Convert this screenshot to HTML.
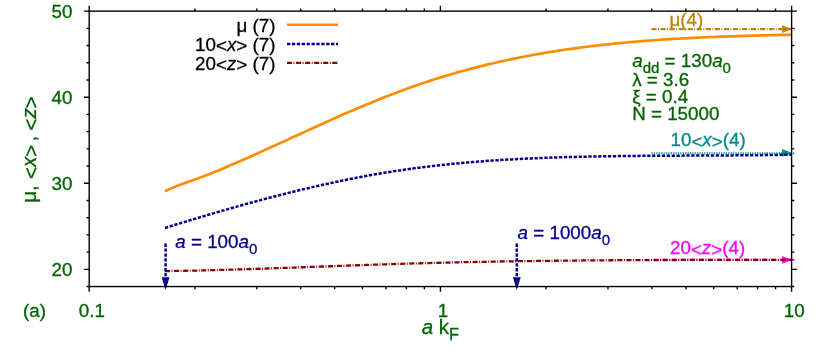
<!DOCTYPE html>
<html><head><meta charset="utf-8"><title>plot</title>
<style>html,body{margin:0;padding:0;background:#fff;width:830px;height:356px;overflow:hidden}</style></head>
<body>
<svg width="830" height="356" viewBox="0 0 830 356" style="position:absolute;left:0;top:0;will-change:transform;font-family:'Liberation Sans',sans-serif;font-size:18.8px">
<rect width="830" height="356" fill="#fff"/>
<path d="M89.2,269.34h-5.3 M791.6,269.34h5.3 M89.2,183.28h-5.3 M791.6,183.28h5.3 M89.2,97.21h-5.3 M791.6,97.21h5.3 M89.2,11.15h-5.3 M791.6,11.15h5.3 M89.2,286.55h-2.7 M791.6,286.55h2.7 M89.2,252.12h-2.7 M791.6,252.12h2.7 M89.2,234.91h-2.7 M791.6,234.91h2.7 M89.2,217.70h-2.7 M791.6,217.70h2.7 M89.2,200.49h-2.7 M791.6,200.49h2.7 M89.2,166.06h-2.7 M791.6,166.06h2.7 M89.2,148.85h-2.7 M791.6,148.85h2.7 M89.2,131.64h-2.7 M791.6,131.64h2.7 M89.2,114.42h-2.7 M791.6,114.42h2.7 M89.2,80.00h-2.7 M791.6,80.00h2.7 M89.2,62.79h-2.7 M791.6,62.79h2.7 M89.2,45.57h-2.7 M791.6,45.57h2.7 M89.2,28.36h-2.7 M791.6,28.36h2.7 M89.20,286.55v5.3 M89.20,11.15v-5.3 M440.40,286.55v5.3 M440.40,11.15v-5.3 M791.60,286.55v5.3 M791.60,11.15v-5.3 M194.92,286.55v2.7 M194.92,11.15v-2.7 M256.76,286.55v2.7 M256.76,11.15v-2.7 M300.64,286.55v2.7 M300.64,11.15v-2.7 M334.68,286.55v2.7 M334.68,11.15v-2.7 M362.49,286.55v2.7 M362.49,11.15v-2.7 M386.00,286.55v2.7 M386.00,11.15v-2.7 M406.37,286.55v2.7 M406.37,11.15v-2.7 M424.33,286.55v2.7 M424.33,11.15v-2.7 M546.12,286.55v2.7 M546.12,11.15v-2.7 M607.96,286.55v2.7 M607.96,11.15v-2.7 M651.84,286.55v2.7 M651.84,11.15v-2.7 M685.88,286.55v2.7 M685.88,11.15v-2.7 M713.69,286.55v2.7 M713.69,11.15v-2.7 M737.20,286.55v2.7 M737.20,11.15v-2.7 M757.57,286.55v2.7 M757.57,11.15v-2.7 M775.53,286.55v2.7 M775.53,11.15v-2.7" stroke="#000" stroke-width="1.4" fill="none"/>
<path d="M651.5,29.1H794.6" stroke="#b8860b" stroke-width="2.2" stroke-dasharray="5.1 1.5 0.95 1.5" stroke-dashoffset="0" fill="none"/><path d="M792.1,29.1l-10,-3.9v7.8z" fill="#b8860b"/>
<path d="M651.5,153.2H794.6" stroke="#008b8b" stroke-width="2.0" stroke-dasharray="1.2 1.2" stroke-dashoffset="0" fill="none"/><path d="M792.1,152.95l-10,-3.9v7.8z" fill="#008b8b"/>
<path d="M651.5,259.8H794.6" stroke="#ff00ff" stroke-width="2.1" stroke-dasharray="5.1 1.5 0.95 1.5" stroke-dashoffset="6.9" fill="none"/><path d="M792.1,259.8l-10,-3.9v7.8z" fill="#ff00ff"/>
<path d="M165.00,191.19 L168.94,189.37 L172.88,187.68 L176.82,186.09 L180.76,184.58 L184.70,183.13 L188.65,181.72 L192.59,180.32 L196.53,178.92 L200.47,177.48 L204.41,175.99 L208.35,174.46 L212.29,172.88 L216.23,171.27 L220.17,169.63 L224.11,167.97 L228.05,166.28 L231.99,164.58 L235.94,162.87 L239.88,161.15 L243.82,159.42 L247.76,157.68 L251.70,155.93 L255.64,154.17 L259.58,152.40 L263.52,150.63 L267.46,148.85 L271.40,147.07 L275.34,145.28 L279.29,143.49 L283.23,141.69 L287.17,139.89 L291.11,138.09 L295.05,136.29 L298.99,134.48 L302.93,132.68 L306.87,130.88 L310.81,129.07 L314.75,127.27 L318.69,125.48 L322.64,123.68 L326.58,121.90 L330.52,120.12 L334.46,118.34 L338.40,116.59 L342.34,114.84 L346.28,113.11 L350.22,111.40 L354.16,109.71 L358.10,108.04 L362.04,106.39 L365.98,104.75 L369.93,103.13 L373.87,101.51 L377.81,99.92 L381.75,98.34 L385.69,96.78 L389.63,95.25 L393.57,93.73 L397.51,92.24 L401.45,90.77 L405.39,89.32 L409.33,87.89 L413.28,86.49 L417.22,85.11 L421.16,83.76 L425.10,82.42 L429.04,81.12 L432.98,79.84 L436.92,78.58 L440.86,77.35 L444.80,76.14 L448.74,74.96 L452.68,73.80 L456.63,72.67 L460.57,71.56 L464.51,70.47 L468.45,69.40 L472.39,68.36 L476.33,67.34 L480.27,66.34 L484.21,65.37 L488.15,64.41 L492.09,63.48 L496.03,62.56 L499.97,61.67 L503.92,60.80 L507.86,59.95 L511.80,59.12 L515.74,58.31 L519.68,57.52 L523.62,56.74 L527.56,55.99 L531.50,55.25 L535.44,54.54 L539.38,53.84 L543.32,53.16 L547.27,52.50 L551.21,51.85 L555.15,51.22 L559.09,50.61 L563.03,50.01 L566.97,49.43 L570.91,48.87 L574.85,48.32 L578.79,47.79 L582.73,47.27 L586.67,46.77 L590.62,46.28 L594.56,45.81 L598.50,45.35 L602.44,44.91 L606.38,44.48 L610.32,44.06 L614.26,43.65 L618.20,43.26 L622.14,42.88 L626.08,42.52 L630.02,42.16 L633.96,41.82 L637.91,41.49 L641.85,41.16 L645.79,40.86 L649.73,40.56 L653.67,40.27 L657.61,39.99 L661.55,39.72 L665.49,39.46 L669.43,39.21 L673.37,38.97 L677.31,38.74 L681.26,38.52 L685.20,38.30 L689.14,38.10 L693.08,37.90 L697.02,37.71 L700.96,37.52 L704.90,37.35 L708.84,37.18 L712.78,37.01 L716.72,36.86 L720.66,36.70 L724.61,36.56 L728.55,36.42 L732.49,36.28 L736.43,36.15 L740.37,36.03 L744.31,35.90 L748.25,35.79 L752.19,35.67 L756.13,35.56 L760.07,35.46 L764.01,35.35 L767.95,35.25 L771.90,35.15 L775.84,35.06 L779.78,34.96 L783.72,34.87 L787.66,34.78 L791.60,34.69" stroke="#ff8c00" stroke-width="2.7" fill="none"/>
<path d="M165.00,227.94 L168.94,226.72 L172.88,225.50 L176.82,224.29 L180.76,223.08 L184.70,221.88 L188.65,220.69 L192.59,219.50 L196.53,218.32 L200.47,217.14 L204.41,215.97 L208.35,214.80 L212.29,213.65 L216.23,212.50 L220.17,211.35 L224.11,210.22 L228.05,209.09 L231.99,207.97 L235.94,206.86 L239.88,205.75 L243.82,204.66 L247.76,203.57 L251.70,202.49 L255.64,201.42 L259.58,200.36 L263.52,199.31 L267.46,198.27 L271.40,197.24 L275.34,196.22 L279.29,195.21 L283.23,194.21 L287.17,193.22 L291.11,192.24 L295.05,191.27 L298.99,190.32 L302.93,189.37 L306.87,188.44 L310.81,187.52 L314.75,186.61 L318.69,185.72 L322.64,184.83 L326.58,183.96 L330.52,183.10 L334.46,182.26 L338.40,181.43 L342.34,180.61 L346.28,179.80 L350.22,179.01 L354.16,178.24 L358.10,177.48 L362.04,176.73 L365.98,176.00 L369.93,175.28 L373.87,174.58 L377.81,173.89 L381.75,173.22 L385.69,172.56 L389.63,171.92 L393.57,171.30 L397.51,170.69 L401.45,170.10 L405.39,169.53 L409.33,168.97 L413.28,168.43 L417.22,167.91 L421.16,167.40 L425.10,166.90 L429.04,166.42 L432.98,165.96 L436.92,165.51 L440.86,165.07 L444.80,164.65 L448.74,164.25 L452.68,163.85 L456.63,163.47 L460.57,163.10 L464.51,162.75 L468.45,162.41 L472.39,162.07 L476.33,161.76 L480.27,161.45 L484.21,161.15 L488.15,160.87 L492.09,160.60 L496.03,160.33 L499.97,160.08 L503.92,159.84 L507.86,159.61 L511.80,159.38 L515.74,159.17 L519.68,158.96 L523.62,158.77 L527.56,158.58 L531.50,158.40 L535.44,158.23 L539.38,158.07 L543.32,157.91 L547.27,157.76 L551.21,157.62 L555.15,157.49 L559.09,157.36 L563.03,157.24 L566.97,157.12 L570.91,157.01 L574.85,156.91 L578.79,156.81 L582.73,156.72 L586.67,156.63 L590.62,156.55 L594.56,156.47 L598.50,156.40 L602.44,156.33 L606.38,156.27 L610.32,156.21 L614.26,156.15 L618.20,156.10 L622.14,156.05 L626.08,156.01 L630.02,155.97 L633.96,155.93 L637.91,155.89 L641.85,155.86 L645.79,155.83 L649.73,155.80 L653.67,155.78 L657.61,155.75 L661.55,155.73 L665.49,155.71 L669.43,155.69 L673.37,155.67 L677.31,155.65 L681.26,155.63 L685.20,155.62 L689.14,155.60 L693.08,155.58 L697.02,155.57 L700.96,155.55 L704.90,155.53 L708.84,155.51 L712.78,155.49 L716.72,155.47 L720.66,155.45 L724.61,155.43 L728.55,155.41 L732.49,155.38 L736.43,155.35 L740.37,155.32 L744.31,155.29 L748.25,155.25 L752.19,155.21 L756.13,155.17 L760.07,155.13 L764.01,155.08 L767.95,155.03 L771.90,154.97 L775.84,154.91 L779.78,154.85 L783.72,154.78 L787.66,154.71 L791.60,154.63" stroke="#00008b" stroke-width="2.5" stroke-dasharray="3.3 1.6" fill="none"/>
<path d="M165.00,271.08 L168.94,271.03 L172.88,270.97 L176.82,270.91 L180.76,270.84 L184.70,270.77 L188.65,270.69 L192.59,270.61 L196.53,270.53 L200.47,270.44 L204.41,270.35 L208.35,270.25 L212.29,270.15 L216.23,270.05 L220.17,269.95 L224.11,269.84 L228.05,269.73 L231.99,269.62 L235.94,269.50 L239.88,269.38 L243.82,269.26 L247.76,269.14 L251.70,269.01 L255.64,268.89 L259.58,268.76 L263.52,268.63 L267.46,268.49 L271.40,268.36 L275.34,268.22 L279.29,268.09 L283.23,267.95 L287.17,267.81 L291.11,267.67 L295.05,267.53 L298.99,267.38 L302.93,267.24 L306.87,267.10 L310.81,266.95 L314.75,266.81 L318.69,266.67 L322.64,266.52 L326.58,266.38 L330.52,266.23 L334.46,266.09 L338.40,265.95 L342.34,265.80 L346.28,265.66 L350.22,265.52 L354.16,265.38 L358.10,265.24 L362.04,265.10 L365.98,264.97 L369.93,264.83 L373.87,264.70 L377.81,264.56 L381.75,264.43 L385.69,264.30 L389.63,264.18 L393.57,264.05 L397.51,263.93 L401.45,263.81 L405.39,263.69 L409.33,263.58 L413.28,263.46 L417.22,263.35 L421.16,263.24 L425.10,263.14 L429.04,263.03 L432.98,262.93 L436.92,262.83 L440.86,262.73 L444.80,262.64 L448.74,262.54 L452.68,262.45 L456.63,262.36 L460.57,262.28 L464.51,262.19 L468.45,262.11 L472.39,262.03 L476.33,261.95 L480.27,261.87 L484.21,261.80 L488.15,261.72 L492.09,261.65 L496.03,261.58 L499.97,261.51 L503.92,261.45 L507.86,261.38 L511.80,261.32 L515.74,261.26 L519.68,261.20 L523.62,261.14 L527.56,261.09 L531.50,261.04 L535.44,260.98 L539.38,260.93 L543.32,260.88 L547.27,260.84 L551.21,260.79 L555.15,260.74 L559.09,260.70 L563.03,260.66 L566.97,260.62 L570.91,260.58 L574.85,260.54 L578.79,260.51 L582.73,260.47 L586.67,260.44 L590.62,260.41 L594.56,260.38 L598.50,260.35 L602.44,260.32 L606.38,260.29 L610.32,260.26 L614.26,260.24 L618.20,260.22 L622.14,260.19 L626.08,260.17 L630.02,260.15 L633.96,260.13 L637.91,260.11 L641.85,260.09 L645.79,260.08 L649.73,260.06 L653.67,260.05 L657.61,260.03 L661.55,260.02 L665.49,260.01 L669.43,260.00 L673.37,259.99 L677.31,259.98 L681.26,259.97 L685.20,259.96 L689.14,259.95 L693.08,259.94 L697.02,259.94 L700.96,259.93 L704.90,259.93 L708.84,259.92 L712.78,259.92 L716.72,259.92 L720.66,259.91 L724.61,259.91 L728.55,259.91 L732.49,259.91 L736.43,259.91 L740.37,259.91 L744.31,259.91 L748.25,259.91 L752.19,259.91 L756.13,259.91 L760.07,259.91 L764.01,259.91 L767.95,259.91 L771.90,259.91 L775.84,259.92 L779.78,259.92 L783.72,259.92 L787.66,259.92 L791.60,259.92" stroke="#8b0000" stroke-width="2.3" stroke-dasharray="5.1 1.5 0.95 1.5" fill="none"/>
<path d="M165.60,243.6V280" stroke="#00008b" stroke-width="2.5" stroke-dasharray="3.3 1.6" fill="none"/>
<path d="M165.60,290l-3.9,-12.7h7.8z" fill="#00008b"/>
<path d="M516.80,243.6V280" stroke="#00008b" stroke-width="2.5" stroke-dasharray="3.3 1.6" fill="none"/>
<path d="M516.80,290l-3.9,-12.7h7.8z" fill="#00008b"/>
<path d="M287,24.7H338" stroke="#ff8c00" stroke-width="2.4"/>
<path d="M287,43.9H338" stroke="#00008b" stroke-width="2.5" stroke-dasharray="3.3 1.6"/>
<path d="M287,62.9H338" stroke="#8b0000" stroke-width="2.3" stroke-dasharray="5.1 1.5 0.95 1.5"/>
<rect x="89.2" y="11.15" width="702.4" height="275.40000000000003" fill="none" stroke="#000" stroke-width="1.4"/>
<text x="72.5" y="276.0375" fill="#006400" stroke="#006400" stroke-width="0.3" text-anchor="end" >20</text>
<text x="72.5" y="189.975" fill="#006400" stroke="#006400" stroke-width="0.3" text-anchor="end" >30</text>
<text x="72.5" y="103.91249999999998" fill="#006400" stroke="#006400" stroke-width="0.3" text-anchor="end" >40</text>
<text x="72.5" y="17.849999999999977" fill="#006400" stroke="#006400" stroke-width="0.3" text-anchor="end" >50</text>
<text x="91.9" y="316.7" fill="#006400" stroke="#006400" stroke-width="0.3" text-anchor="middle" >0.1</text>
<text x="443.09999999999997" y="316.7" fill="#006400" stroke="#006400" stroke-width="0.3" text-anchor="middle" >1</text>
<text x="794.3000000000001" y="316.7" fill="#006400" stroke="#006400" stroke-width="0.3" text-anchor="middle" >10</text>
<text x="23" y="317.3" fill="#006400" stroke="#006400" stroke-width="0.3" text-anchor="start" >(a)</text>
<text x="421.7" y="334.3" fill="#006400" stroke="#006400" stroke-width="0.3" text-anchor="start" font-size="20.5"><tspan font-style="italic">a</tspan> k<tspan font-size="16.4" dy="6">F</tspan></text>
<text x="275.5" y="31.6" fill="#000" stroke="#000" stroke-width="0.3" text-anchor="end" >&#956; (7)</text>
<text x="275.5" y="50.8" fill="#000" stroke="#000" stroke-width="0.3" text-anchor="end" >10<tspan dy="1.6">&lt;</tspan><tspan dy="-1.6" font-style="italic">x</tspan><tspan dy="1.6">&gt;</tspan><tspan dy="-1.6"> (7)</tspan></text>
<text x="275.5" y="69.8" fill="#000" stroke="#000" stroke-width="0.3" text-anchor="end" >20<tspan dy="1.6">&lt;</tspan><tspan dy="-1.6" font-style="italic">z</tspan><tspan dy="1.6">&gt;</tspan><tspan dy="-1.6"> (7)</tspan></text>
<text x="632.2" y="67.2" fill="#006400" stroke="#006400" stroke-width="0.3" text-anchor="start" ><tspan font-style="italic">a</tspan><tspan font-size="15.04" dy="6.0">dd</tspan><tspan dy="-6.0" font-size="1">&#8203;</tspan> = 130<tspan font-style="italic">a</tspan><tspan font-size="15.04" dy="6.0">0</tspan><tspan dy="-6.0" font-size="1">&#8203;</tspan></text>
<text x="632.2" y="86.2" fill="#006400" stroke="#006400" stroke-width="0.3" text-anchor="start" >&#955; = 3.6</text>
<text x="632.2" y="103.1" fill="#006400" stroke="#006400" stroke-width="0.3" text-anchor="start" >&#958; = 0.4</text>
<text x="632.2" y="120.2" fill="#006400" stroke="#006400" stroke-width="0.3" text-anchor="start" >N = 15000</text>
<text x="669.5" y="26.1" fill="#b8860b" stroke="#b8860b" stroke-width="0.3" text-anchor="start" >&#956;(4)</text>
<text x="670.5" y="146.0" fill="#008b8b" stroke="#008b8b" stroke-width="0.3" text-anchor="start" >10<tspan dy="1.6">&lt;</tspan><tspan dy="-1.6" font-style="italic">x</tspan><tspan dy="1.6">&gt;</tspan><tspan dy="-1.6">(4)</tspan></text>
<text x="670.0" y="254.1" fill="#ff00ff" stroke="#ff00ff" stroke-width="0.3" text-anchor="start" >20<tspan dy="1.6">&lt;</tspan><tspan dy="-1.6" font-style="italic">z</tspan><tspan dy="1.6">&gt;</tspan><tspan dy="-1.6">(4)</tspan></text>
<text x="175.3" y="247.9" fill="#00008b" stroke="#00008b" stroke-width="0.3" text-anchor="start" ><tspan font-style="italic">a</tspan> = 100<tspan font-style="italic">a</tspan><tspan font-size="15.04" dy="6.0">0</tspan><tspan dy="-6.0" font-size="1">&#8203;</tspan></text>
<text x="517.6" y="239.0" fill="#00008b" stroke="#00008b" stroke-width="0.3" text-anchor="start" ><tspan font-style="italic">a</tspan> = 1000<tspan font-style="italic">a</tspan><tspan font-size="15.04" dy="6.0">0</tspan><tspan dy="-6.0" font-size="1">&#8203;</tspan></text>
<g transform="translate(36,201.5) rotate(-90)" fill="#006400" stroke="#006400" stroke-width="0.3" font-size="20.5">
<text x="-1.3" y="0">&#956;,</text><text x="22.6" y="0"><tspan dy="1.8">&lt;</tspan><tspan dy="-1.8" font-style="italic">x</tspan><tspan dy="1.8">&gt;</tspan><tspan dy="-1.8" dx="3.2">,</tspan></text><text x="71.1" y="0"><tspan dy="1.8">&lt;</tspan><tspan dy="-1.8" font-style="italic">z</tspan><tspan dy="1.8">&gt;</tspan></text>
</g>
</svg>
</body></html>
